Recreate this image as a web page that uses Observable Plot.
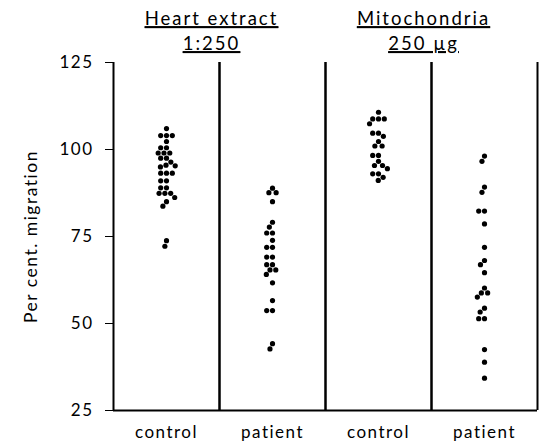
<!DOCTYPE html>
<html>
<head>
<meta charset="utf-8">
<script src="https://cdn.jsdelivr.net/npm/d3@7"></script>
<script src="https://cdn.jsdelivr.net/npm/@observablehq/plot@0.6"></script>
<style>
  body { margin: 0; background: #fff; }
  svg { display: block; }
</style>
</head>
<body>
<div id="chart"></div>
<script>
// Groups (facets) and their bottom labels
const groups = ["hc", "hp", "mc", "mp"];
const groupLabels = ["control", "patient", "control", "patient"];

// Per cent migration values
const heartControl = [106, 104, 104, 104, 102.3, 100.5, 100.5, 99, 99, 99, 97.5, 97.5, 96.4, 95.5, 95, 95.3, 93.2, 93.2, 93.2, 91, 91, 89, 89, 87.4, 87.4, 87.4, 86.2, 85, 83.7, 73.8, 72.2];
const heartPatient = [88.9, 87.6, 87.6, 85, 79.1, 77.7, 76, 76, 73.9, 71.9, 71.9, 69.1, 69.1, 66.9, 66.9, 65.4, 65.4, 64.1, 61.7, 56.6, 53.7, 53.7, 44.2, 42.7];
const mitoControl = [110.7, 108.8, 108.8, 108.8, 107.4, 104.7, 104.7, 103.8, 102.3, 101, 101, 98.3, 98.3, 96.6, 95.4, 95.4, 94.5, 93, 93, 92, 91.1];
const mitoPatient = [98.1, 96.6, 89.2, 87.7, 82.3, 82.3, 78.6, 71.9, 68.1, 66.9, 64.6, 60.2, 58.8, 58.8, 57.6, 54.4, 53.3, 51.4, 51.4, 42.5, 38.9, 34.3];

// Titles above the column pairs
const titleGroups = ["hp", "mp"];
const titleTexts = ["Heart extract\n1:250", "Mitochondria\n250 \u00b5g"];

const yTicks = [25, 50, 75, 100, 125];
const yLabel = "Per cent. migration";

const series = [heartControl, heartPatient, mitoControl, mitoPatient];
const rows = [];
series.forEach((vals, i) => vals.forEach(v => rows.push({group: groups[i], value: v})));
const titles = titleGroups.map((g, i) => ({fx: g, text: titleTexts[i]}));

const chart = Plot.plot({
  width: 543,
  height: 445,
  marginTop: 62,
  marginBottom: 35,
  marginLeft: 112,
  marginRight: 6,
  style: {fontFamily: "Lato, sans-serif", fontSize: "17px", color: "#000", background: "#fff", letterSpacing: "1.5px"},
  fx: {domain: groups, padding: 0, axis: "bottom", tickSize: 0, tickPadding: 15, label: null,
       tickFormat: d => groupLabels[groups.indexOf(d)]},
  x: {domain: [0, 1], axis: null},
  y: {domain: [25, 125], ticks: yTicks, tickSize: 8, tickPadding: 12, label: null},
  marks: [
    Plot.ruleX([0, 1], {stroke: "#000", strokeWidth: 2}),
    Plot.ruleY([25], {stroke: "#000", strokeWidth: 2}),
    Plot.dot(rows, Plot.dodgeX({anchor: "middle", padding: 0.6}, {y: "value", fx: "group", r: 2.6, fill: "#000"})),
    Plot.text(titles, {fx: "fx", text: "text", frameAnchor: "top-left", textAnchor: "middle", dx: -8, dy: -55, lineAnchor: "top", lineHeight: 1.35, fontSize: 18.5}),
    Plot.text([{fx: "hc", t: yLabel}], {fx: "fx", text: "t", frameAnchor: "left", textAnchor: "middle", dx: -82, rotate: -90, fontSize: 17.5})
  ]
});
// underline the titles and widen their spacing a little
d3.select(chart).selectAll("text").each(function () {
  const s = this.textContent;
  if (titleTexts.some(t => t.replace("\n", "") === s)) {
    d3.select(this).style("letter-spacing", "2px").attr("text-decoration", "underline").style("text-decoration", "underline");
    d3.select(this).selectAll("tspan").attr("text-decoration", "underline").style("text-decoration", "underline");
  }
});
document.getElementById("chart").appendChild(chart);
</script>
</body>
</html>
